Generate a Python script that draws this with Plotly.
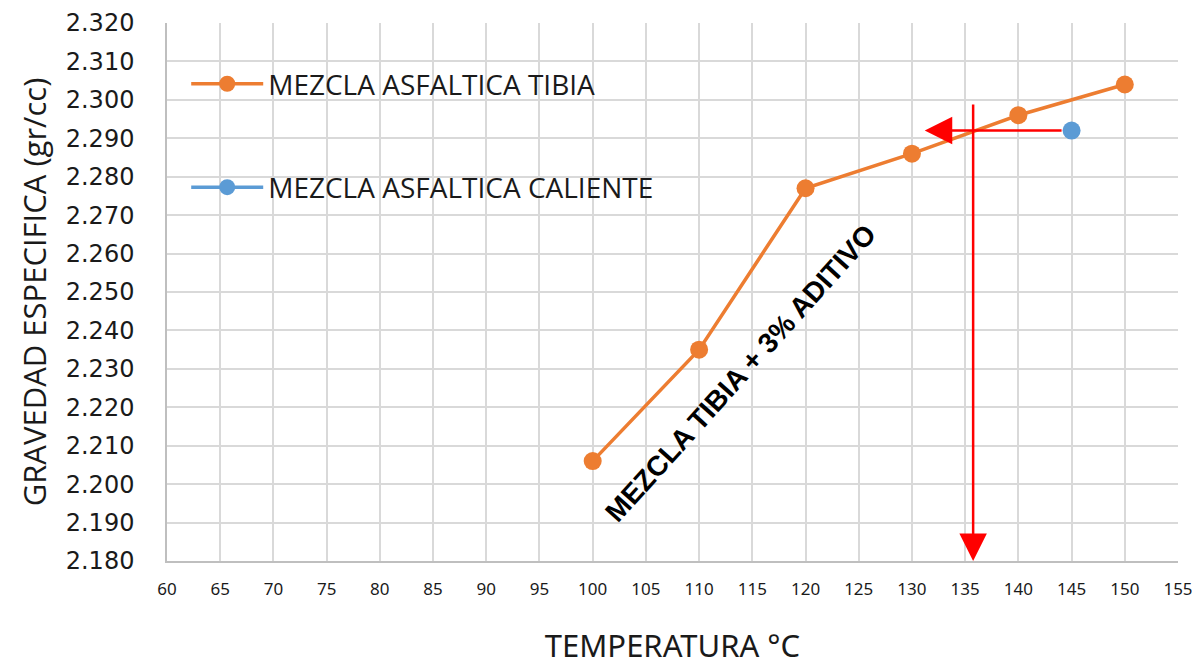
import plotly.graph_objects as go

# Data
temp_tibia = [100, 110, 120, 130, 140, 150]
grav_tibia = [2.206, 2.235, 2.277, 2.286, 2.296, 2.304]
temp_caliente = [145]
grav_caliente = [2.292]

# Reference arrows (data coordinates)
h_arrow_x = [144.2, 131.2]   # tail, tip
h_arrow_y = [2.292, 2.292]
v_arrow_x = [135.75, 135.75]
v_arrow_y = [2.2992, 2.180]

label_text = "MEZCLA TIBIA + 3% ADITIVO"
label_x = 113.9
label_y = 2.2287

x_ticks = list(range(60, 160, 5))
y_ticks = [round(2.18 + 0.01 * i, 3) for i in range(15)]

ORANGE = "#ED7D31"
BLUE = "#5B9BD5"

fig = go.Figure()
fig.add_trace(go.Scatter(
    x=temp_tibia, y=grav_tibia, mode="lines+markers",
    name="MEZCLA ASFALTICA TIBIA", legendgroup="a",
    line=dict(color=ORANGE, width=3.5),
    marker=dict(color=ORANGE, size=18),
))
fig.add_trace(go.Scatter(
    x=temp_caliente, y=grav_caliente, mode="lines+markers",
    name="MEZCLA ASFALTICA CALIENTE", legendgroup="b",
    line=dict(color=BLUE, width=3.5),
    marker=dict(color=BLUE, size=18),
))

# Arrows
fig.add_annotation(
    x=h_arrow_x[1], y=h_arrow_y[1], ax=h_arrow_x[0], ay=h_arrow_y[0],
    xref="x", yref="y", axref="x", ayref="y",
    showarrow=True, arrowhead=2, arrowsize=2.2, arrowwidth=2.5,
    arrowcolor="#FF0000", text="",
)
fig.add_annotation(
    x=v_arrow_x[1], y=v_arrow_y[1], ax=v_arrow_x[0], ay=v_arrow_y[0],
    xref="x", yref="y", axref="x", ayref="y",
    showarrow=True, arrowhead=2, arrowsize=2.2, arrowwidth=2.5,
    arrowcolor="#FF0000", text="",
)
fig.add_annotation(
    x=label_x, y=label_y, xref="x", yref="y", text="<b>" + label_text + "</b>",
    showarrow=False, textangle=-48,
    font=dict(family="Liberation Sans, Arial", size=28, color="#000000"),
)

fig.update_layout(
    width=1200, height=664,
    paper_bgcolor="white", plot_bgcolor="white",
    margin=dict(l=159, r=30, t=15, b=111, autoexpand=False),
    showlegend=True,
    legend=dict(
        x=0.019, y=0.933, xanchor="left", yanchor="top",
        bgcolor="rgba(255,255,255,0)",
        font=dict(family="Open Sans", size=28, color="#1a1a1a"),
        tracegroupgap=64, itemwidth=72,
    ),
)
fig.update_xaxes(
    range=[60, 155], tickvals=x_ticks, ticktext=[str(t) for t in x_ticks],
    showgrid=True, gridcolor="#D9D9D9", gridwidth=1.5,
    showline=True, linecolor="#BFBFBF", linewidth=1.5,
    tickfont=dict(family="Noto Sans", size=17, color="#1a1a1a"),
    ticks="outside", ticklen=12, tickcolor="rgba(0,0,0,0)",
    ticklabeloverflow="allow",
    title=dict(text="TEMPERATURA °C", font=dict(family="Noto Sans", size=31, color="#1a1a1a"), standoff=36),
    zeroline=False, automargin=False,
)
fig.update_yaxes(
    range=[2.18, 2.32], tickvals=y_ticks, ticktext=[f"{v:.3f}" for v in y_ticks],
    showgrid=True, gridcolor="#D9D9D9", gridwidth=1.5,
    showline=True, linecolor="#BFBFBF", linewidth=1.5,
    tickfont=dict(family="DejaVu Sans", size=24, color="#1a1a1a"),
    ticks="outside", ticklen=26, tickcolor="rgba(0,0,0,0)",
    ticklabeloverflow="allow",
    title=dict(text="GRAVEDAD ESPECIFICA (gr/cc)", font=dict(family="Open Sans", size=31, color="#1a1a1a"), standoff=10),
    zeroline=False, automargin=False,
)

fig.write_html("out.html")
